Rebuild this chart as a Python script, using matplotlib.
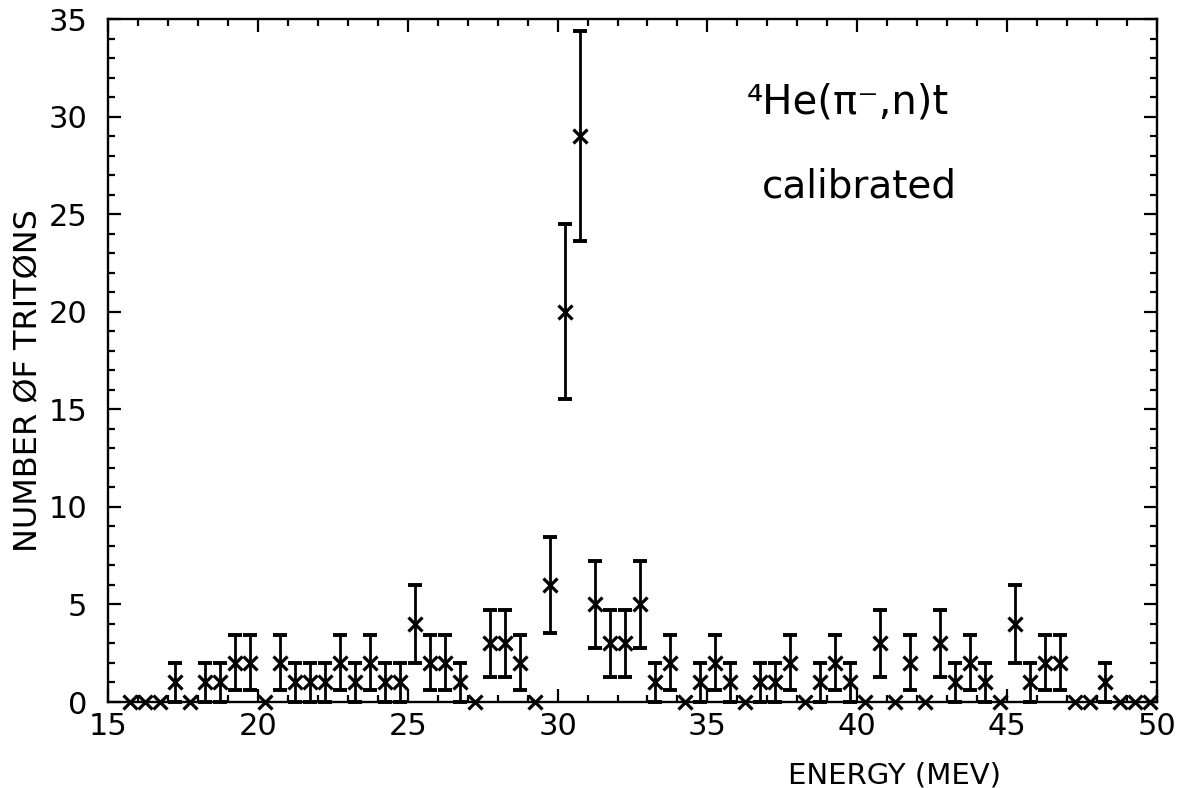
import matplotlib
matplotlib.use("Agg")
import matplotlib.pyplot as plt
from matplotlib.ticker import MultipleLocator
import numpy as np

plt.rcParams['font.family'] = ['DejaVu Sans']

energy = [15.75, 16.25, 16.75, 17.25, 17.75, 18.25, 18.75, 19.25, 19.75, 20.25,
          20.75, 21.25, 21.75, 22.25, 22.75, 23.25, 23.75, 24.25, 24.75, 25.25,
          25.75, 26.25, 26.75, 27.25, 27.75, 28.25, 28.75, 29.25, 29.75, 30.25,
          30.75, 31.25, 31.75, 32.25, 32.75, 33.25, 33.75, 34.25, 34.75, 35.25,
          35.75, 36.25, 36.75, 37.25, 37.75, 38.25, 38.75, 39.25, 39.75, 40.25,
          40.75, 41.25, 41.75, 42.25, 42.75, 43.25, 43.75, 44.25, 44.75, 45.25,
          45.75, 46.25, 46.75, 47.25, 47.75, 48.25, 48.75, 49.25, 49.75]
counts = [0, 0, 0, 1, 0, 1, 1, 2, 2, 0,
          2, 1, 1, 1, 2, 1, 2, 1, 1, 4,
          2, 2, 1, 0, 3, 3, 2, 0, 6, 20,
          29, 5, 3, 3, 5, 1, 2, 0, 1, 2,
          1, 0, 1, 1, 2, 0, 1, 2, 1, 0,
          3, 0, 2, 0, 3, 1, 2, 1, 0, 4,
          1, 2, 2, 0, 0, 1, 0, 0, 0]
errors = [0, 0, 0, 1.0, 0, 1.0, 1.0, 1.41, 1.41, 0,
          1.41, 1.0, 1.0, 1.0, 1.41, 1.0, 1.41, 1.0, 1.0, 2.0,
          1.41, 1.41, 1.0, 0, 1.73, 1.73, 1.41, 0, 2.45, 4.47,
          5.39, 2.24, 1.73, 1.73, 2.24, 1.0, 1.41, 0, 1.0, 1.41,
          1.0, 0, 1.0, 1.0, 1.41, 0, 1.0, 1.41, 1.0, 0,
          1.73, 0, 1.41, 0, 1.73, 1.0, 1.41, 1.0, 0, 2.0,
          1.0, 1.41, 1.41, 0, 0, 1.0, 0, 0, 0]

x_ticks = [15, 20, 25, 30, 35, 40, 45, 50]
y_ticks = [0, 5, 10, 15, 20, 25, 30, 35]

fig = plt.figure(figsize=(11.79, 7.88), dpi=100)
ax = fig.add_axes([108/1179, 1 - 702/788, (1157-108)/1179, (702-19)/788])

e = np.array(energy)
c = np.array(counts)
err = np.array(errors)
nz = c > 0

ax.errorbar(e[nz], c[nz], yerr=err[nz], fmt='none', ecolor='black',
            elinewidth=2.0, capsize=5, capthick=2.8, clip_on=False, zorder=3)
ax.plot(e, c, linestyle='none', marker='x', markersize=10, markeredgewidth=2.3,
        color='black', clip_on=False, zorder=4)

ax.set_xlim(15, 50)
ax.set_ylim(0, 35)
ax.set_xticks(x_ticks)
ax.set_yticks(y_ticks)
ax.xaxis.set_minor_locator(MultipleLocator(1))
ax.yaxis.set_minor_locator(MultipleLocator(1))
ax.tick_params(which='both', direction='in', top=True, right=True, width=1.6,
               colors='black')
ax.tick_params(which='major', length=9.5, labelsize=22)
ax.tick_params(axis='y', which='major', pad=15)
ax.tick_params(axis='x', which='major', pad=7)
ax.tick_params(which='minor', length=5)
for s in ax.spines.values():
    s.set_linewidth(1.7)

ax.set_ylabel('NUMBER ØF TRITØNS', fontsize=23)
ax.yaxis.set_label_coords(-0.061, 0.47)
ax.set_xlabel('ENERGY (MEV)', fontsize=21)
ax.xaxis.set_label_coords(0.75, -0.087)

ax.text(36.3, 30.7, '⁴He(π⁻,n)t', fontsize=29, va='center', ha='left')
ax.text(36.8, 26.4, 'calibrated', fontsize=28, va='center', ha='left')

fig.savefig('out.png', dpi=100)
